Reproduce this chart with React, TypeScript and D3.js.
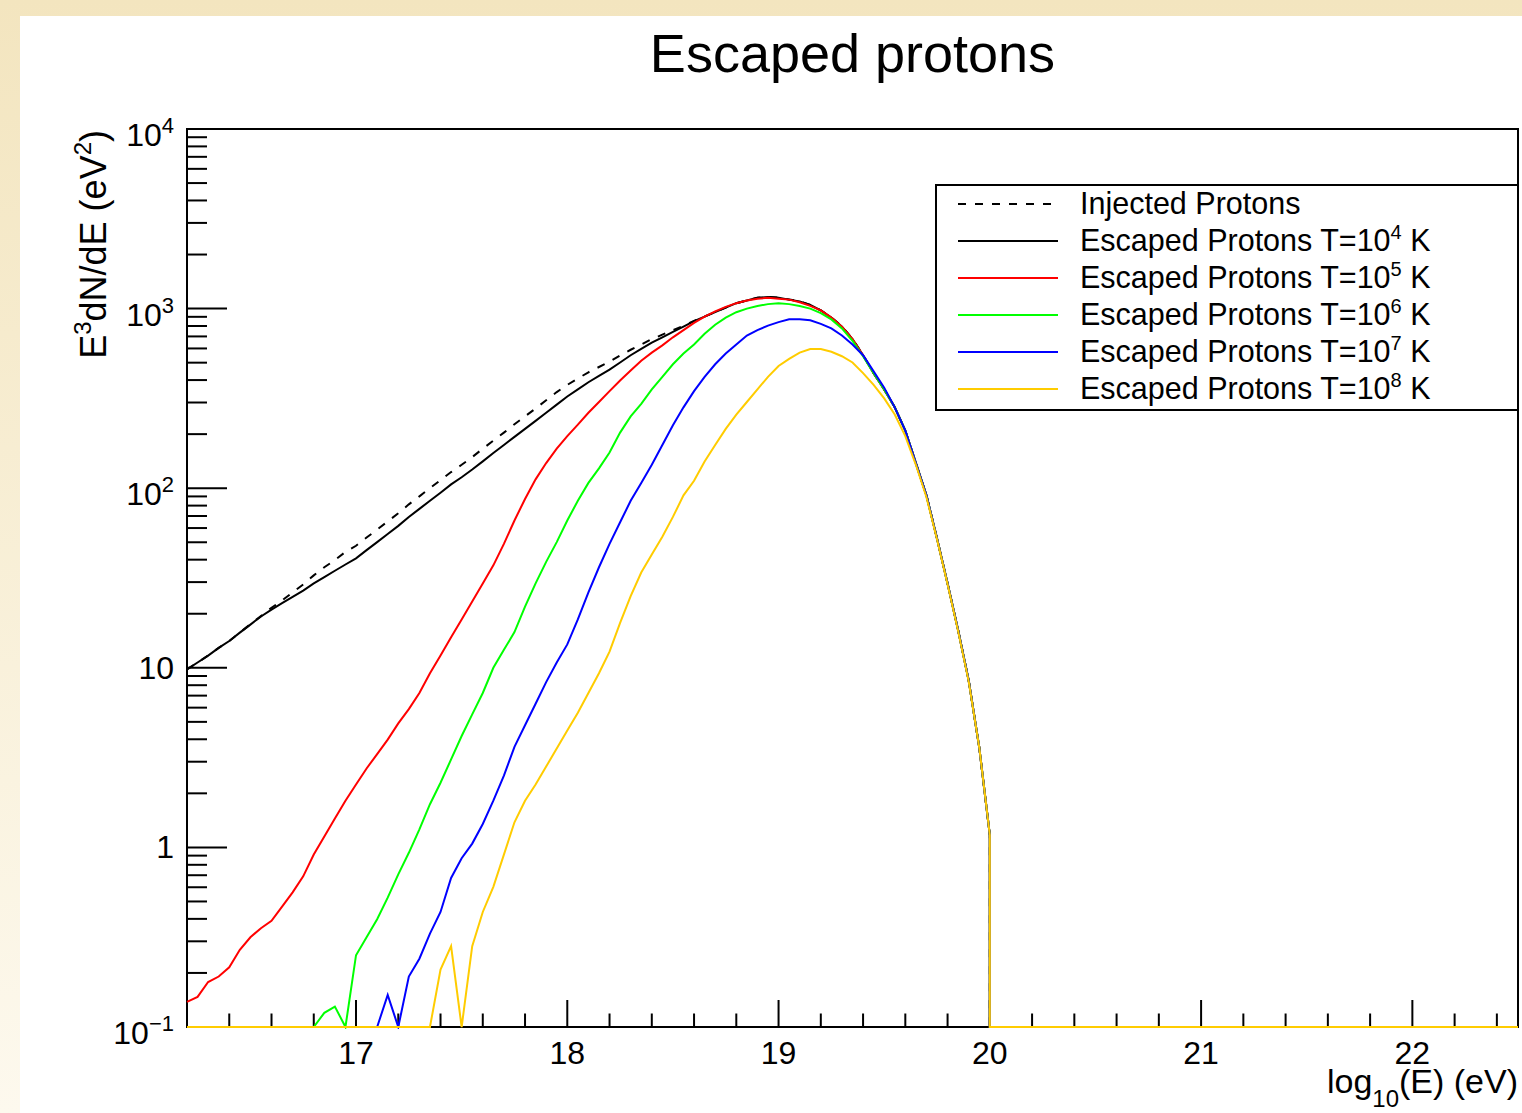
import React from 'react';
import * as d3 from 'd3';

const W = 1522;
const H = 1113;
const PL = 187, PR = 1518, PT = 129, PB = 1027;
const X_MIN = 16.2, X_MAX = 22.5;
const Y_MIN = 0.1, Y_MAX = 1e4;
const E_START = 16.2;
const BIN = 0.05;
const E_END = 20.0;
const FONT = "'Liberation Sans', Arial, Helvetica, sans-serif";

const injected = [
  9.8, 10.7, 11.7, 12.9, 14.1, 15.7, 17.5, 19.4, 21.6, 23.7,
  26.3, 29.1, 32.7, 36.3, 39.8, 44.2, 47.8, 53.1, 58.9, 65.3,
  72.5, 81.3, 90.1, 100, 111, 123, 135, 149, 166, 184,
  204, 227, 251, 278, 309, 343, 376, 408, 442, 473,
  507, 549, 590, 631, 676, 716, 758, 803, 855, 904,
  957, 1014, 1072, 1110, 1150, 1160, 1150, 1124, 1098, 1048,
  979, 893, 796, 678, 551, 437, 355, 282, 209, 138,
  91.2, 52.5, 29.5, 16.2, 8.5, 3.6, 1.17,
];

const escT4 = [
  9.8, 10.7, 11.7, 12.9, 14.1, 15.7, 17.4, 19.3, 21.1, 22.9,
  24.8, 26.9, 29.5, 32.0, 34.7, 37.6, 40.7, 45.2, 50.1, 55.6,
  61.7, 69.2, 76.7, 85.1, 94.4, 105, 115, 127, 141, 157,
  174, 193, 214, 237, 263, 292, 324, 355, 389, 422,
  457, 501, 550, 596, 646, 692, 741, 794, 851, 902,
  955, 1012, 1072, 1109, 1148, 1161, 1148, 1122, 1096, 1047,
  977, 891, 794, 676, 550, 437, 355, 282, 209, 138,
  91.2, 52.5, 29.5, 16.2, 8.5, 3.6, 1.17,
];

const escT5 = [
  0.138, 0.147, 0.178, 0.191, 0.215, 0.269, 0.316, 0.355, 0.39, 0.468,
  0.562, 0.69, 0.912, 1.15, 1.45, 1.82, 2.24, 2.75, 3.31, 3.98,
  4.90, 5.89, 7.24, 9.33, 11.7, 14.8, 18.6, 23.4, 29.5, 37.2,
  49.0, 66.1, 87.1, 112, 138, 166, 195, 226, 263, 302,
  347, 398, 452, 513, 569, 624, 692, 759, 832, 902,
  966, 1023, 1072, 1109, 1135, 1148, 1135, 1122, 1084, 1035,
  977, 891, 794, 676, 550, 437, 355, 282, 209, 138,
  91.2, 52.5, 29.5, 16.2, 8.5, 3.6, 1.17,
];

const escT6 = [
  0, 0, 0, 0, 0, 0, 0, 0, 0, 0,
  0, 0, 0, 0.12, 0.13, 0, 0.251, 0.316, 0.398, 0.525,
  0.708, 0.933, 1.26, 1.74, 2.29, 3.09, 4.17, 5.50, 7.24, 10.0,
  12.6, 15.8, 21.9, 29.5, 38.9, 50.1, 66.1, 85.1, 107, 129,
  158, 204, 251, 295, 355, 417, 490, 562, 631, 724,
  813, 891, 955, 1000, 1035, 1059, 1072, 1059, 1035, 1000,
  944, 871, 776, 661, 543, 437, 355, 282, 209, 138,
  91.2, 52.5, 29.5, 16.2, 8.5, 3.6, 1.17,
];

const escT7 = [
  0, 0, 0, 0, 0, 0, 0, 0, 0, 0,
  0, 0, 0, 0, 0, 0, 0, 0, 0, 0.151,
  0, 0.191, 0.240, 0.331, 0.437, 0.676, 0.871, 1.05, 1.35, 1.82,
  2.51, 3.63, 4.79, 6.31, 8.32, 10.7, 13.5, 18.6, 26.3, 36.3,
  49.0, 64.6, 85.1, 107, 135, 174, 224, 282, 347, 417,
  490, 562, 631, 708, 759, 804, 841, 871, 871, 861,
  822, 776, 708, 631, 550, 447, 363, 282, 209, 138,
  91.2, 52.5, 29.5, 16.2, 8.5, 3.6, 1.17,
];

const escT8 = [
  0, 0, 0, 0, 0, 0, 0, 0, 0, 0,
  0, 0, 0, 0, 0, 0, 0, 0, 0, 0,
  0, 0, 0, 0, 0.209, 0.282, 0, 0.282, 0.437, 0.603,
  0.912, 1.38, 1.82, 2.24, 2.82, 3.55, 4.47, 5.62, 7.24, 9.33,
  12.3, 17.8, 25.1, 33.9, 42.7, 53.7, 69.2, 91.2, 110, 141,
  174, 214, 257, 302, 355, 417, 479, 525, 569, 596,
  596, 575, 543, 501, 437, 376, 316, 257, 195, 135,
  89.1, 52.0, 29.2, 16.0, 8.4, 3.6, 1.17,
];

const seriesLabels = ['Injected Protons', 'Escaped Protons T=10', 'Escaped Protons T=10', 'Escaped Protons T=10', 'Escaped Protons T=10', 'Escaped Protons T=10'];
const seriesExp = ['', '4', '5', '6', '7', '8'];
const seriesColors = ['#000000', '#000000', '#ff0000', '#00ff00', '#0000ff', '#ffcc00'];
const seriesDash = ['8 9', '', '', '', '', ''];
const seriesValues = [injected, escT4, escT5, escT6, escT7, escT8];

const xTickValues = [17, 18, 19, 20, 21, 22];
const yTickValues = [0.1, 1, 10, 100, 1000, 10000];
const yTickBase = ['10', '1', '10', '10', '10', '10'];
const yTickExp = ['\u22121', '', '', '2', '3', '4'];

export default function App() {
  const x = d3.scaleLinear().domain([X_MIN, X_MAX]).range([PL, PR]);
  const y = d3.scaleLog().domain([Y_MIN, Y_MAX]).range([PB, PT]);
  const line = d3
    .line<[number, number]>()
    .x((d) => x(d[0]))
    .y((d) => y(Math.max(d[1], Y_MIN)));

  const pathFor = (vals: number[]) => {
    const pts: [number, number][] = vals.map((v, i) => [E_START + i * BIN, v]);
    pts.push([E_END, Y_MIN]);
    pts.push([X_MAX, Y_MIN]);
    return line(pts) || '';
  };

  const xMinor: number[] = [];
  for (let i = 1; i < 32; i++) {
    const v = Math.round((X_MIN + i * 0.2) * 10) / 10;
    if (Math.abs(v - Math.round(v)) > 1e-6 && v < X_MAX) xMinor.push(v);
  }
  const yMinor: number[] = [];
  [0.1, 1, 10, 100, 1000].forEach((d) => {
    for (let m = 2; m <= 9; m++) yMinor.push(d * m);
  });

  const rowY = (i: number) => 204 + 37 * i;

  return (
    <svg
      width={W}
      height={H}
      viewBox={`0 0 ${W} ${H}`}
      style={{ position: 'absolute', left: 0, top: 0, display: 'block' }}
      fontFamily={FONT}
    >
      <defs>
        <linearGradient id="bg" x1="0" y1="0" x2="0" y2="1">
          <stop offset="0" stopColor="#f3e5bf" />
          <stop offset="1" stopColor="#fdf9ee" />
        </linearGradient>
        <clipPath id="frame">
          <rect x={PL - 1} y={PT - 2} width={PR - PL + 1} height={PB - PT + 4} />
        </clipPath>
      </defs>
      <rect x={0} y={0} width={W} height={H} fill="url(#bg)" />
      <rect x={20} y={16} width={W - 20} height={H - 16} fill="#ffffff" />

      {/* title */}
      <text x={(PL + PR) / 2} y={72} fontSize={54} textAnchor="middle" fill="#000">
        Escaped protons
      </text>

      {/* frame */}
      <rect x={PL} y={PT} width={PR - PL} height={PB - PT} fill="none" stroke="#000" strokeWidth={2} />

      {/* ticks (drawn before the histograms, as ROOT does) */}
      <g stroke="#000" strokeWidth={2}>
        {xTickValues.map((v) => (
          <line key={'xt' + v} x1={x(v)} x2={x(v)} y1={PB - 1} y2={PB - 27} />
        ))}
        {xMinor.map((v) => (
          <line key={'xm' + v} x1={x(v)} x2={x(v)} y1={PB - 1} y2={PB - 13.5} />
        ))}
        {yTickValues.map((v) => (
          <line key={'yt' + v} x1={PL} x2={PL + 40} y1={y(v)} y2={y(v)} />
        ))}
        {yMinor.map((v) => (
          <line key={'ym' + v} x1={PL} x2={PL + 20} y1={y(v)} y2={y(v)} />
        ))}
      </g>

      {/* curves */}
      <g clipPath="url(#frame)" fill="none" strokeWidth={2} strokeLinejoin="miter">
        {seriesValues.map((vals, i) => (
          <path
            key={i}
            d={pathFor(vals)}
            stroke={seriesColors[i]}
            strokeDasharray={seriesDash[i] || undefined}
          />
        ))}
      </g>

      {/* x tick labels */}
      {xTickValues.map((v) => (
        <text key={'xl' + v} x={x(v)} y={1064} fontSize={32} textAnchor="middle" fill="#000">
          {String(v)}
        </text>
      ))}

      {/* y tick labels */}
      {yTickValues.map((v, i) => {
        const hasExp = yTickExp[i] !== '';
        const base = y(v) + (hasExp ? 17 : 11);
        return (
          <text key={'yl' + v} x={174} y={base} fontSize={32} textAnchor="end" fill="#000">
            {yTickBase[i]}
            {hasExp && (
              <tspan dy={-13} fontSize={22}>
                {yTickExp[i]}
              </tspan>
            )}
          </text>
        );
      })}

      {/* x title */}
      <text x={PR} y={1093} fontSize={34} textAnchor="end" fill="#000">
        log
        <tspan dy={14} fontSize={24}>10</tspan>
        <tspan dy={-14}>(E) (eV)</tspan>
      </text>

      {/* y title */}
      <text
        transform={`translate(106, ${PT + 1}) rotate(-90)`}
        fontSize={36}
        textAnchor="end"
        fill="#000"
      >
        E
        <tspan dy={-15} fontSize={24}>3</tspan>
        <tspan dy={15}>dN/dE (eV</tspan>
        <tspan dy={-15} fontSize={24}>2</tspan>
        <tspan dy={15}>)</tspan>
      </text>

      {/* legend */}
      <rect x={936} y={185} width={PR - 936} height={225} fill="#fff" stroke="#000" strokeWidth={2} />
      {seriesLabels.map((lab, i) => (
        <g key={'lg' + i}>
          <line
            x1={958}
            x2={1058}
            y1={rowY(i)}
            y2={rowY(i)}
            stroke={seriesColors[i]}
            strokeWidth={2}
            strokeDasharray={seriesDash[i] || undefined}
          />
          <text x={1080} y={rowY(i) + 10} fontSize={30.5} fill="#000">
            {lab}
            {seriesExp[i] && (
              <>
                <tspan dy={-12} fontSize={20}>{seriesExp[i]}</tspan>
                <tspan dy={12}>{' K'}</tspan>
              </>
            )}
          </text>
        </g>
      ))}
    </svg>
  );
}
